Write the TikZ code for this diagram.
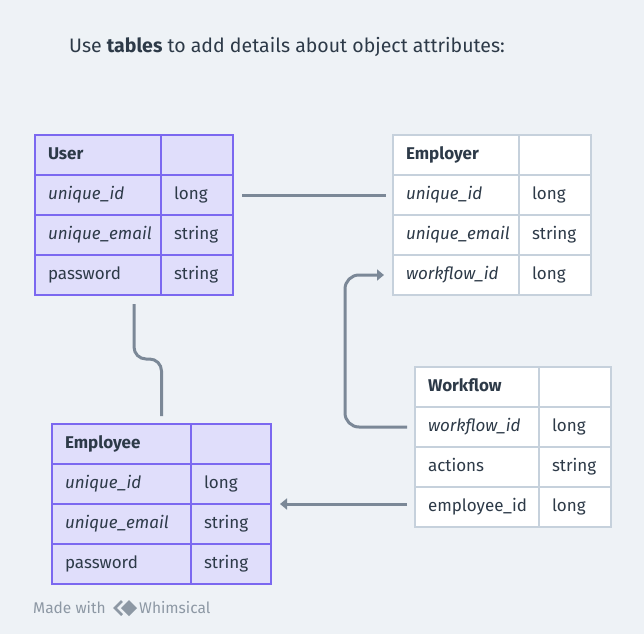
\documentclass[tikz,border=0pt]{standalone}
\usepackage{fontspec}
\setmainfont{Fira Sans}
\usetikzlibrary{calc,arrows.meta}
\definecolor{bgcol}{HTML}{EEF2F6}
\definecolor{inkcol}{HTML}{2D3A48}
\definecolor{lavfill}{HTML}{E0DEFB}
\definecolor{lavline}{HTML}{7B68F0}
\definecolor{greyline}{HTML}{C6D1DC}
\definecolor{conncol}{HTML}{7B8897}
\definecolor{footcol}{HTML}{8D98A4}
\tikzset{
    cell/.style={
        draw, rectangle, line width=2pt, anchor=north west,
        minimum height=40pt, inner xsep=13pt, inner ysep=0pt,
        align=left, text height=12pt, text depth=4pt, text=inkcol,
        font=\fontsize{17}{20}\selectfont
    },
    lavcell/.style={cell, draw=lavline, fill=lavfill},
    plaincell/.style={cell, draw=greyline, fill=white},
    headcell/.style={font=\fontsize{17}{20}\selectfont\bfseries},
    conn/.style={draw=conncol, line width=3pt},
    tip/.style={-{Triangle[length=7pt,width=11pt]}},
    foot/.style={anchor=west, inner sep=0pt, text=footcol, font=\fontsize{15.5}{18}\selectfont}
}

\begin{document}
\begin{tikzpicture}[x=1pt,y=-1pt]
    \fill[bgcol] (0,0) rectangle (644,634);
    \useasboundingbox (0,0) rectangle (644,634);

    \node[anchor=west, inner sep=0pt, text=inkcol, font=\fontsize{19.5}{22}\selectfont] (title) at (69,47)
        {Use \textbf{tables} to add details about object attributes:};

    % User
    \node[lavcell, headcell, text width=100pt] (user-h-a) at (34,134) {User};
    \node[lavcell, text width=46pt] (user-h-b) at (160,134) {};
    \foreach \fa/\fb [count=\i] in {{\itshape unique\_id}/long,{\itshape unique\_email}/string,password/string} {
        \node[lavcell, text width=100pt] (user-\i-a) at (34,134+40*\i) {\fa};
        \node[lavcell, text width=46pt] (user-\i-b) at (160,134+40*\i) {\fb};
    }

    % Employer
    \node[plaincell, headcell, text width=100pt] (employer-h-a) at (392,134) {Employer};
    \node[plaincell, text width=46pt] (employer-h-b) at (518,134) {};
    \foreach \fa/\fb [count=\i] in {{\itshape unique\_id}/long,{\itshape unique\_email}/string,{\itshape workflow\_id}/long} {
        \node[plaincell, text width=100pt] (employer-\i-a) at (392,134+40*\i) {\fa};
        \node[plaincell, text width=46pt] (employer-\i-b) at (518,134+40*\i) {\fb};
    }

    % Workflow
    \node[plaincell, headcell, text width=98pt] (wf-h-a) at (414,366) {Workflow};
    \node[plaincell, text width=46pt] (wf-h-b) at (538,366) {};
    \foreach \fa/\fb [count=\i] in {{\itshape workflow\_id}/long,actions/string,employee\_id/long} {
        \node[plaincell, text width=98pt] (wf-\i-a) at (414,366+40*\i) {\fa};
        \node[plaincell, text width=46pt] (wf-\i-b) at (538,366+40*\i) {\fb};
    }

    % Employee
    \node[lavcell, headcell, text width=113pt] (employee-h-a) at (51,423) {Employee};
    \node[lavcell, text width=54pt] (employee-h-b) at (190,423) {};
    \foreach \fa/\fb [count=\i] in {{\itshape unique\_id}/long,{\itshape unique\_email}/string,password/string} {
        \node[lavcell, text width=113pt] (employee-\i-a) at (51,423+40*\i) {\fa};
        \node[lavcell, text width=54pt] (employee-\i-b) at (190,423+40*\i) {\fb};
    }

    % links
    \draw[conn] ([xshift=8pt]user-1-b.east) -- ([xshift=-6pt]employer-1-a.west);
    \draw[conn, rounded corners=12pt]
        ($(user-3-a.south west)!.5!(user-3-b.south east)+(0,8)$) -- ++(0,55)
        -| ($(employee-h-a.north west)!.5!(employee-h-b.north east)+(0,-7)$);
    \draw[conn, tip, rounded corners=14pt]
        ([xshift=-7pt]wf-1-a.west) -- ++(-62,0) |- ([xshift=-8pt]employer-3-a.west);
    \draw[conn, tip]
        ([xshift=-7pt,yshift=3pt]wf-3-a.west) -- ([xshift=8pt,yshift=3pt]wf-3-a.west -| employee-1-b.east);

    % footer
    \node[foot] (made) at (33,608) {Made with};
    \coordinate (logo) at (113,608);
    \draw[footcol, line width=2.6pt] ([shift={(9,-7)}]logo) -- ([shift={(2,0)}]logo) -- ([shift={(9,7)}]logo);
    \fill[footcol] ([shift={(8,0)}]logo) -- ([shift={(16,-8)}]logo) -- ([shift={(24,0)}]logo) -- ([shift={(16,8)}]logo) -- cycle;
    \node[foot] (whim) at (139,608) {Whimsical};
\end{tikzpicture}
\end{document}
